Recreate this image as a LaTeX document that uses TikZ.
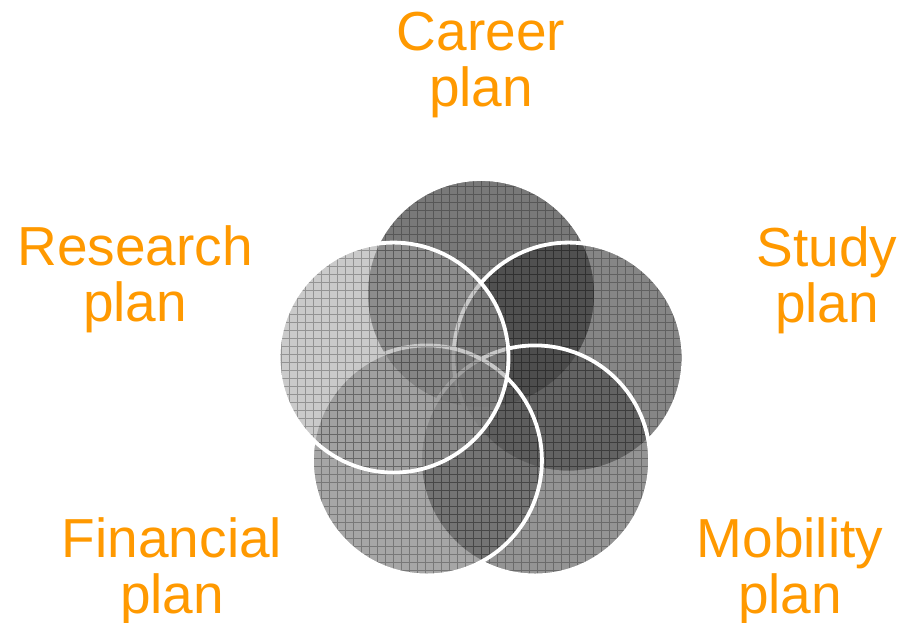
\documentclass[tikz,border=0pt]{standalone}
\usepackage{fontspec}
\setmainfont{Liberation Sans}
\definecolor{planorange}{RGB}{255,153,0}
\begin{document}
\begin{tikzpicture}[x=1pt,y=1pt,
	plan/.style={text=planorange,align=center,inner sep=0pt,font=\fontsize{55}{56}\selectfont}]
	\useasboundingbox (0,0) rectangle (914,623);
	% five rings, drawn clockwise from the top
	\begin{scope}[shift={(481,237)}]
		\foreach \ang/\g/\op in {90/12/0.6, 18/21/0.6, -54/30/0.6, -126/36/0.55, 162/62/0.55}
		{
			\begin{scope}
				\clip (\ang:92) circle (115);
				\fill[black!\the\numexpr100-\g\relax, fill opacity=\op] (\ang:92) circle (115);
				\draw[black, line width=0.8pt, opacity=0.27, step=8pt] (-220,-220) grid (220,220);
			\end{scope}
			\draw[white, line width=3.8pt] (\ang:92) circle (115);
		}
	\end{scope}
	\node[plan] (career) at (481,558) {Career\\plan};
	\node[plan] (study) at (827,343) {Study\\plan};
	\node[plan] (research) at (135,344) {Research\\plan};
	\node[plan] (financial) at (172,52) {Financial\\plan};
	\node[plan] (mobility) at (790,52) {Mobility\\plan};
\end{tikzpicture}
\end{document}
